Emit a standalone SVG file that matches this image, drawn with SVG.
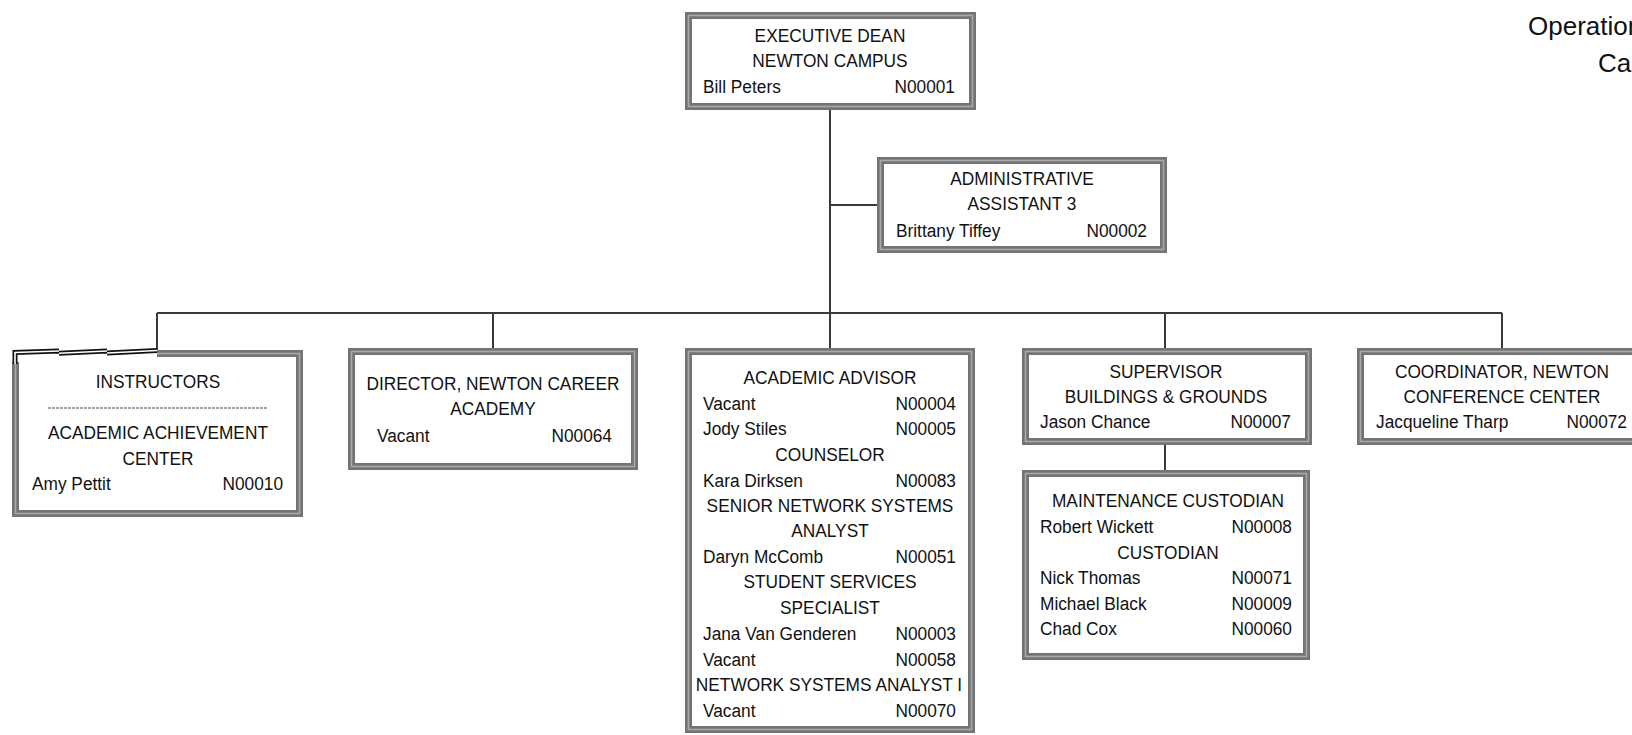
<svg xmlns="http://www.w3.org/2000/svg" width="1632" height="735" viewBox="0 0 1632 735">
<style>
text { font-family: "Liberation Sans", Arial, sans-serif; font-size: 19px; fill: #111; transform-box: fill-box; transform: scaleX(0.91); }
.c { text-anchor: middle; transform-origin: center; }
.l { text-anchor: start; transform-origin: left; }
.r { text-anchor: end; transform-origin: right; }
.big { font-size: 26px; transform: none; }
.frame { fill: #fff; stroke: #747474; stroke-width: 7; }
.hl { fill: none; stroke: #a9a9a9; stroke-width: 1.6; }
.conn line, .conn polyline { stroke: #3a3a3a; stroke-width: 2; fill: none; }
.dbl1 { stroke: #111; stroke-width: 5; fill: none; }
.dbl2 { stroke: #fff; stroke-width: 1.6; fill: none; }
.sep { stroke: #a0a0a0; stroke-width: 2; stroke-dasharray: 3 1; }
</style>
<rect width="1632" height="735" fill="#fff"/>

<g id="connectors" class="conn">
  <line x1="830" y1="110" x2="830" y2="349"/>
  <line x1="830" y1="205" x2="879" y2="205"/>
  <line x1="157" y1="313" x2="1502" y2="313"/>
  <line x1="157" y1="313" x2="157" y2="351"/>
  <line x1="493" y1="313" x2="493" y2="349"/>
  <line x1="1165" y1="313" x2="1165" y2="349"/>
  <line x1="1502" y1="313" x2="1502" y2="349"/>
  <line x1="1165" y1="445" x2="1165" y2="471"/>
</g>

<g id="exec-dean">
  <rect class="frame" x="688.5" y="15.5" width="284" height="91"/>
  <rect class="hl" x="688.5" y="15.5" width="284" height="91"/>
  <text class="c" x="830" y="42">EXECUTIVE DEAN</text>
  <text class="c" x="830" y="67">NEWTON CAMPUS</text>
  <text class="l" x="703" y="93">Bill Peters</text>
  <text class="r" x="955" y="93">N00001</text>
</g>

<g id="admin-assistant">
  <rect class="frame" x="880.5" y="160.5" width="283" height="89"/>
  <rect class="hl" x="880.5" y="160.5" width="283" height="89"/>
  <text class="c" x="1022" y="185">ADMINISTRATIVE</text>
  <text class="c" x="1022" y="210">ASSISTANT 3</text>
  <text class="l" x="896" y="237">Brittany Tiffey</text>
  <text class="r" x="1147" y="237">N00002</text>
</g>

<g id="instructors">
  <rect x="15.5" y="353.5" width="284" height="160" fill="#fff"/>
  <path class="frame" fill="none" d="M15.5,362 V513.5 H299.5 V353.5 H157"/>
  <path class="hl" d="M15.5,362 V513.5 H299.5 V353.5 H157"/>
  <path class="dbl1" d="M157,350.5 L107,353 M107,351 L59,353.3 M59,351 L15,352.5 L15,364"/>
  <path class="dbl2" d="M157,350.5 L107,353 M107,351 L59,353.3 M59,351 L15,352.5 L15,364"/>
  <text class="c" x="158" y="388">INSTRUCTORS</text>
  <line class="sep" x1="48" y1="408" x2="268" y2="408"/>
  <text class="c" x="158" y="439">ACADEMIC ACHIEVEMENT</text>
  <text class="c" x="158" y="465">CENTER</text>
  <text class="l" x="32" y="490">Amy Pettit</text>
  <text class="r" x="283" y="490">N00010</text>
</g>

<g id="director-career-academy">
  <rect class="frame" x="351.5" y="351.5" width="283" height="115"/>
  <rect class="hl" x="351.5" y="351.5" width="283" height="115"/>
  <text class="c" x="493" y="390">DIRECTOR, NEWTON CAREER</text>
  <text class="c" x="493" y="415">ACADEMY</text>
  <text class="l" x="377" y="442">Vacant</text>
  <text class="r" x="612" y="442">N00064</text>
</g>

<g id="academic-advisor">
  <rect class="frame" x="688.5" y="351.5" width="283" height="378"/>
  <rect class="hl" x="688.5" y="351.5" width="283" height="378"/>
  <text class="c" x="830" y="384">ACADEMIC ADVISOR</text>
  <text class="l" x="703" y="410">Vacant</text>
  <text class="r" x="956" y="410">N00004</text>
  <text class="l" x="703" y="435">Jody Stiles</text>
  <text class="r" x="956" y="435">N00005</text>
  <text class="c" x="830" y="461">COUNSELOR</text>
  <text class="l" x="703" y="487">Kara Dirksen</text>
  <text class="r" x="956" y="487">N00083</text>
  <text class="c" x="830" y="512">SENIOR NETWORK SYSTEMS</text>
  <text class="c" x="830" y="537">ANALYST</text>
  <text class="l" x="703" y="563">Daryn McComb</text>
  <text class="r" x="956" y="563">N00051</text>
  <text class="c" x="830" y="588">STUDENT SERVICES</text>
  <text class="c" x="830" y="614">SPECIALIST</text>
  <text class="l" x="703" y="640">Jana Van Genderen</text>
  <text class="r" x="956" y="640">N00003</text>
  <text class="l" x="703" y="666">Vacant</text>
  <text class="r" x="956" y="666">N00058</text>
  <text class="c" x="829" y="691">NETWORK SYSTEMS ANALYST I</text>
  <text class="l" x="703" y="717">Vacant</text>
  <text class="r" x="956" y="717">N00070</text>
</g>

<g id="supervisor-buildings">
  <rect class="frame" x="1025.5" y="351.5" width="283" height="90"/>
  <rect class="hl" x="1025.5" y="351.5" width="283" height="90"/>
  <text class="c" x="1166" y="378">SUPERVISOR</text>
  <text class="c" x="1166" y="403">BUILDINGS &amp; GROUNDS</text>
  <text class="l" x="1040" y="428">Jason Chance</text>
  <text class="r" x="1291" y="428">N00007</text>
</g>

<g id="maintenance-custodian">
  <rect class="frame" x="1025.5" y="473.5" width="281" height="183"/>
  <rect class="hl" x="1025.5" y="473.5" width="281" height="183"/>
  <text class="c" x="1168" y="507">MAINTENANCE CUSTODIAN</text>
  <text class="l" x="1040" y="533">Robert Wickett</text>
  <text class="r" x="1292" y="533">N00008</text>
  <text class="c" x="1168" y="559">CUSTODIAN</text>
  <text class="l" x="1040" y="584">Nick Thomas</text>
  <text class="r" x="1292" y="584">N00071</text>
  <text class="l" x="1040" y="610">Michael Black</text>
  <text class="r" x="1292" y="610">N00009</text>
  <text class="l" x="1040" y="635">Chad Cox</text>
  <text class="r" x="1292" y="635">N00060</text>
</g>

<g id="coordinator-conference">
  <rect class="frame" x="1360.5" y="351.5" width="290" height="90"/>
  <rect class="hl" x="1360.5" y="351.5" width="290" height="90"/>
  <text class="c" x="1502" y="378">COORDINATOR, NEWTON</text>
  <text class="c" x="1502" y="403">CONFERENCE CENTER</text>
  <text class="l" x="1376" y="428">Jacqueline Tharp</text>
  <text class="r" x="1627" y="428">N00072</text>
</g>

<g id="title">
  <text class="big" x="1528" y="35">Operation</text>
  <text class="big" x="1598" y="72">Ca</text>
</g>
</svg>
